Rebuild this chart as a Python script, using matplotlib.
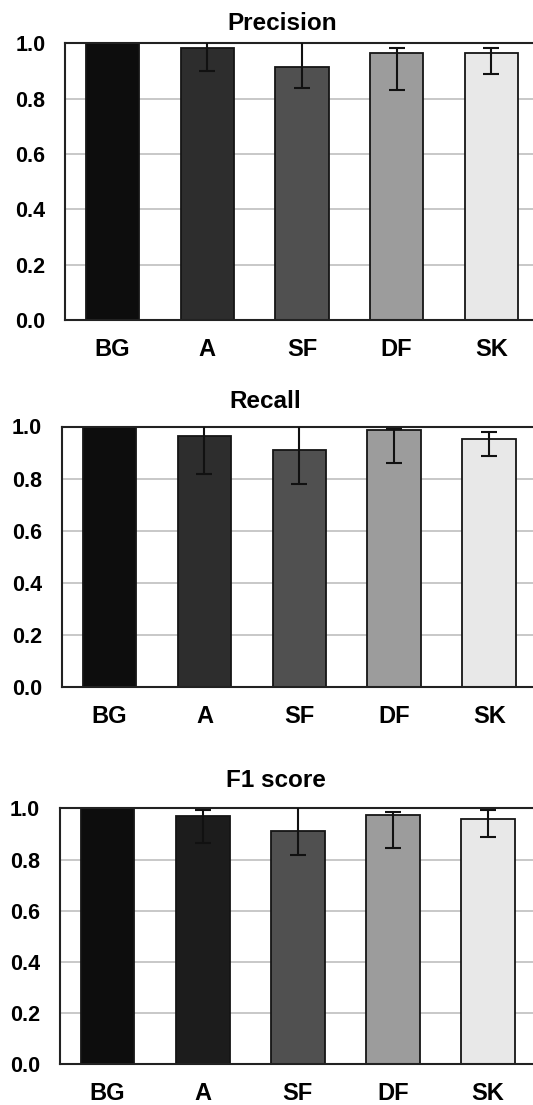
import matplotlib
matplotlib.use("Agg")
import matplotlib.pyplot as plt
import numpy as np

plt.rcParams["font.family"] = ["Liberation Sans", "DejaVu Sans"]
plt.rcParams["font.weight"] = "bold"

# ---- data ----
categories = ["BG", "A", "SF", "DF", "SK"]

precision_mean = [1.0, 0.983, 0.916, 0.966, 0.964]
precision_low = [1.0, 0.900, 0.839, 0.830, 0.890]
precision_high = [1.0, 1.066, 1.010, 0.984, 0.984]

recall_mean = [1.0, 0.963, 0.911, 0.986, 0.952]
recall_low = [1.0, 0.819, 0.780, 0.860, 0.888]
recall_high = [1.0, 1.100, 1.040, 0.990, 0.978]

f1_mean = [1.0, 0.970, 0.913, 0.974, 0.957]
f1_low = [1.0, 0.866, 0.816, 0.843, 0.889]
f1_high = [1.0, 0.994, 1.010, 0.984, 0.993]

titles = ["Precision", "Recall", "F1 score"]
y_ticks = [0.0, 0.2, 0.4, 0.6, 0.8, 1.0]

colors_pr = ["#0d0d0d", "#2d2d2d", "#505050", "#9c9c9c", "#e8e8e8"]
colors_f1 = ["#0d0d0d", "#1c1c1c", "#505050", "#9c9c9c", "#e8e8e8"]

# ---- layout (pixels of the 533x1105 reference) ----
W, H = 533, 1105
panels = [
    # left, right, top, bottom, title x (axes frac), title pad (pt)
    (65.3, 538.7, 43.3, 320.0, 0.458, 9.6),
    (62.0, 536.7, 426.5, 686.7, 0.428, 13.0),
    (60.0, 535.7, 808.3, 1064.3, 0.454, 15.0),
]

fig = plt.figure(figsize=(W / 100, H / 100), dpi=100)

series = [
    (precision_mean, precision_low, precision_high, colors_pr),
    (recall_mean, recall_low, recall_high, colors_pr),
    (f1_mean, f1_low, f1_high, colors_f1),
]

x = np.arange(len(categories))
for (l, r, t, b, tx, tpad), (mean, low, high, cols), title in zip(panels, series, titles):
    ax = fig.add_axes([l / W, (H - b) / H, (r - l) / W, (b - t) / H])
    mean = np.asarray(mean)
    ax.bar(x, mean, width=0.565, color=cols, edgecolor="#151515", linewidth=1.3, zorder=2)
    # error bars (none on BG)
    lo = mean[1:] - np.asarray(low)[1:]
    hi = np.asarray(high)[1:] - mean[1:]
    ax.errorbar(x[1:], mean[1:], yerr=[lo, hi], fmt="none", ecolor="#111111",
                elinewidth=1.5, capsize=6, capthick=1.5, zorder=3)

    ax.set_xlim(-0.5, 4.5)
    ax.set_ylim(0, 1.0)
    ax.set_yticks(y_ticks)
    ax.set_yticklabels([f"{v:.1f}" for v in y_ticks])
    ax.set_xticks(x)
    ax.set_xticklabels(categories)
    ax.tick_params(axis="y", length=0, pad=14.4, labelsize=15.5)
    ax.tick_params(axis="x", length=0, pad=13, labelsize=17)
    for lab in ax.get_xticklabels() + ax.get_yticklabels():
        lab.set_fontweight("bold")

    ax.yaxis.grid(True, color="#c4c4c4", linewidth=1.3)
    ax.set_axisbelow(True)
    for side in ("left", "top", "bottom"):
        ax.spines[side].set_color("#222222")
        ax.spines[side].set_linewidth(1.5)
    ax.spines["right"].set_visible(False)

    ax.set_title(title, x=tx, pad=tpad, fontsize=17.5, fontweight="bold")

fig.savefig("out.png", dpi=100)
